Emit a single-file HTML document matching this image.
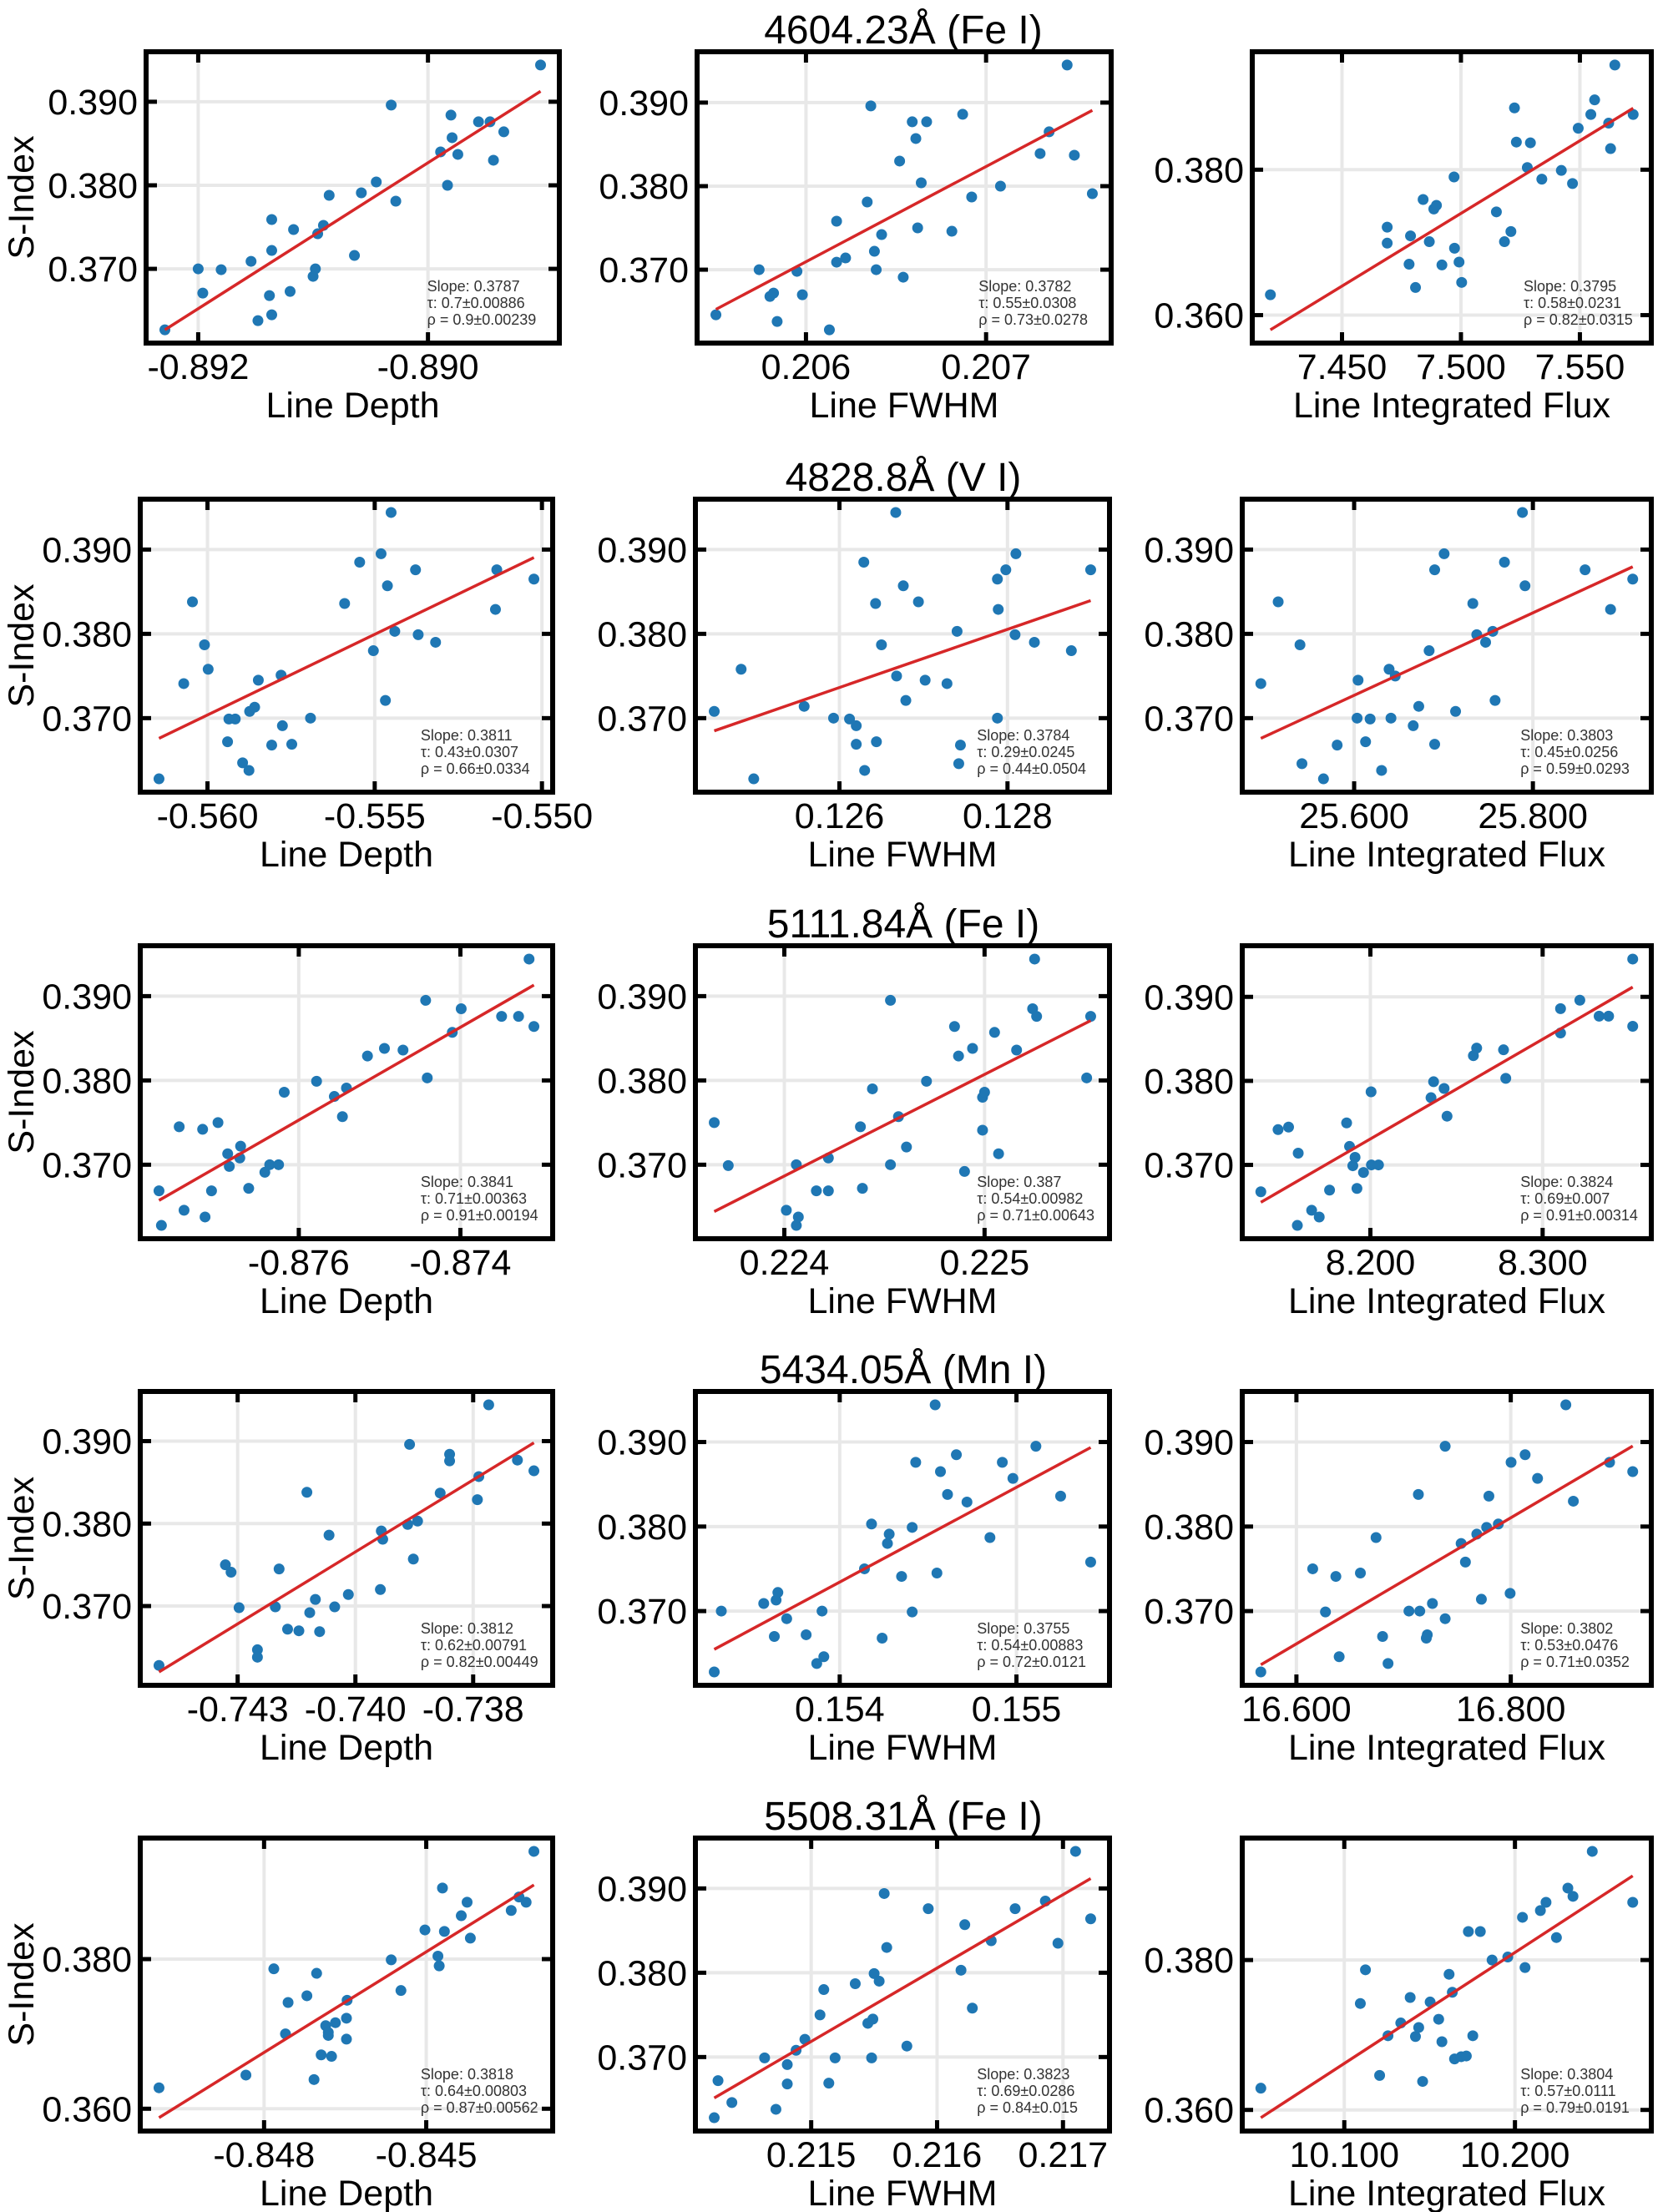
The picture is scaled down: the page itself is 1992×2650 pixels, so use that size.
<!DOCTYPE html>
<html><head><meta charset="utf-8"><title>S-Index correlations</title>
<style>
html,body{margin:0;padding:0;background:#fff;}
svg{display:block;font-family:"Liberation Sans",Arial,sans-serif;}
</style></head>
<body>
<svg id="fig" xmlns="http://www.w3.org/2000/svg" width="1992" height="2650"></svg>
<script>
// ===== Data (x = line property, y = S-Index) =====
const xs_r1c1=[-0.89229,-0.8920,-0.89196,-0.8918,-0.89154,-0.89148,-0.89138,-0.89136,-0.89136,-0.89136,-0.89120,-0.89117,-0.89100,-0.89098,-0.89096,-0.89091,-0.89086,-0.89064,-0.89058,-0.89045,-0.89032,-0.89028,-0.88989,-0.88983,-0.88980,-0.88979,-0.88974,-0.88956,-0.88946,-0.88943,-0.88934,-0.88902];
const ys_r1c1=[0.3627,0.3700,0.3671,0.3699,0.3709,0.3638,0.3668,0.3645,0.3722,0.3759,0.3673,0.3747,0.3691,0.3700,0.3742,0.3752,0.3788,0.3716,0.3791,0.3804,0.3896,0.3781,0.3840,0.3800,0.3884,0.3857,0.3837,0.3876,0.3876,0.3830,0.3864,0.3944];
const fit_r1c1=[0.3627,0.39125];
const xs_r1c2=[0.20550,0.20574,0.20580,0.20582,0.20584,0.20595,0.20598,0.20613,0.20617,0.20617,0.20622,0.20634,0.20636,0.20638,0.20639,0.20642,0.20652,0.20654,0.20659,0.20661,0.20662,0.20664,0.20667,0.20681,0.20687,0.20692,0.20708,0.20730,0.20735,0.20745,0.20749,0.20759];
const ys_r1c2=[0.3646,0.3700,0.3668,0.3672,0.3638,0.3698,0.3670,0.3628,0.3709,0.3758,0.3714,0.3781,0.3896,0.3722,0.3700,0.3742,0.3830,0.3691,0.3877,0.3857,0.3750,0.3804,0.3877,0.3746,0.3886,0.3787,0.3800,0.3839,0.3865,0.3945,0.3837,0.3791];
const fit_r1c2=[0.36525,0.38907];
const xs_r1c3=[7.4199,7.4690,7.4690,7.4782,7.4788,7.4809,7.4841,7.4867,7.4886,7.4897,7.4920,7.4973,7.4971,7.4992,7.5003,7.5149,7.5183,7.5210,7.5225,7.5233,7.5279,7.5292,7.5340,7.5422,7.5469,7.5493,7.5546,7.5562,7.5621,7.5629,7.5647,7.5724];
const ys_r1c3=[0.3628,0.3721,0.3699,0.3670,0.3709,0.3638,0.3759,0.3701,0.3746,0.3751,0.3669,0.3692,0.3790,0.3673,0.3645,0.3742,0.3701,0.3715,0.3885,0.3838,0.3803,0.3837,0.3787,0.3799,0.3781,0.3857,0.3876,0.3896,0.3864,0.3829,0.3944,0.3876];
const fit_r1c3=[0.35798,0.38846];
const xs_r2c1=[-0.56145,-0.56071,-0.56045,-0.56009,-0.55998,-0.55940,-0.55936,-0.55917,-0.55895,-0.55876,-0.55874,-0.55859,-0.55848,-0.55808,-0.55780,-0.55776,-0.55748,-0.55692,-0.55590,-0.55545,-0.55504,-0.55481,-0.55468,-0.55462,-0.55451,-0.55440,-0.55378,-0.55370,-0.55318,-0.55139,-0.55135,-0.55024];
const ys_r2c1=[0.3628,0.3741,0.3838,0.3787,0.3758,0.3672,0.3699,0.3699,0.3647,0.3638,0.3708,0.3713,0.3745,0.3668,0.3751,0.3691,0.3669,0.3700,0.3836,0.3885,0.3780,0.3895,0.3721,0.3857,0.3944,0.3803,0.3876,0.3799,0.3790,0.3829,0.3876,0.3865];
const fit_r2c1=[0.36760,0.38905];
const xs_r2c2=[0.12451,0.12483,0.12498,0.12558,0.12593,0.12612,0.12620,0.12620,0.12629,0.12630,0.12643,0.12644,0.12650,0.12667,0.12668,0.12676,0.12679,0.12694,0.12702,0.12728,0.12740,0.12742,0.12744,0.12788,0.12789,0.12788,0.12798,0.12810,0.12809,0.12832,0.12876,0.12899];
const ys_r2c2=[0.3708,0.3758,0.3628,0.3714,0.3700,0.3699,0.3691,0.3669,0.3885,0.3638,0.3836,0.3672,0.3787,0.3944,0.3750,0.3857,0.3721,0.3838,0.3745,0.3741,0.3803,0.3646,0.3668,0.3865,0.3829,0.3700,0.3876,0.3895,0.3799,0.3790,0.3780,0.3876];
const fit_r2c2=[0.36849,0.38395];
const xs_r2c3=[25.4956,25.5150,25.5394,25.5416,25.5657,25.5810,25.6033,25.6044,25.6128,25.6179,25.6307,25.6391,25.6412,25.6460,25.6661,25.6723,25.6839,25.6901,25.6901,25.7007,25.7135,25.7328,25.7372,25.7471,25.7551,25.7577,25.7682,25.7883,25.7912,25.8584,25.8869,25.9117];
const ys_r2c3=[0.3741,0.3838,0.3787,0.3646,0.3628,0.3668,0.3700,0.3745,0.3672,0.3699,0.3638,0.3758,0.3700,0.3750,0.3691,0.3714,0.3780,0.3876,0.3669,0.3895,0.3708,0.3836,0.3799,0.3790,0.3803,0.3721,0.3885,0.3944,0.3857,0.3876,0.3829,0.3865];
const fit_r2c3=[0.3676,0.38796];
const xs_r3c1=[-0.87773,-0.87770,-0.87748,-0.87742,-0.87719,-0.87716,-0.87708,-0.87700,-0.87688,-0.87686,-0.87673,-0.87672,-0.87662,-0.87642,-0.87636,-0.87625,-0.87618,-0.87578,-0.87556,-0.87546,-0.87541,-0.87515,-0.87494,-0.87471,-0.87443,-0.87441,-0.87410,-0.87399,-0.87349,-0.87328,-0.87315,-0.87309];
const ys_r3c1=[0.3669,0.3628,0.3745,0.3646,0.3742,0.3638,0.3669,0.3750,0.3713,0.3698,0.3708,0.3722,0.3672,0.3691,0.3700,0.3700,0.3786,0.3799,0.3781,0.3757,0.3791,0.3829,0.3838,0.3836,0.3895,0.3803,0.3857,0.3885,0.3876,0.3876,0.3944,0.3864];
const fit_r3c1=[0.36577,0.39131];
const xs_r3c2=[0.22365,0.22372,0.22401,0.22406,0.22406,0.22407,0.22416,0.22422,0.22422,0.22438,0.22439,0.22444,0.22453,0.22453,0.22457,0.22461,0.22471,0.22485,0.22487,0.22490,0.22494,0.22499,0.22499,0.22500,0.22505,0.22507,0.22516,0.22524,0.22525,0.22526,0.22551,0.22553];
const ys_r3c2=[0.3750,0.3699,0.3646,0.3628,0.3700,0.3638,0.3669,0.3669,0.3708,0.3745,0.3672,0.3790,0.3700,0.3895,0.3757,0.3721,0.3799,0.3864,0.3829,0.3692,0.3838,0.3741,0.3780,0.3786,0.3857,0.3713,0.3836,0.3885,0.3944,0.3876,0.3803,0.3876];
const fit_r3c2=[0.36444,0.38710];
const xs_r3c3=[8.1364,8.1464,8.1525,8.1576,8.1581,8.1659,8.1703,8.1763,8.1862,8.1879,8.1898,8.1911,8.1922,8.1960,8.2004,8.2006,8.2047,8.2352,8.2367,8.2428,8.2445,8.2598,8.2617,8.2773,8.2786,8.3104,8.3104,8.3216,8.3328,8.3383,8.3523,8.3523];
const ys_r3c3=[0.3668,0.3742,0.3745,0.3628,0.3714,0.3646,0.3638,0.3670,0.3750,0.3722,0.3699,0.3709,0.3672,0.3691,0.3787,0.3700,0.3700,0.3780,0.3799,0.3791,0.3758,0.3830,0.3839,0.3837,0.3803,0.3886,0.3857,0.3896,0.3877,0.3877,0.3945,0.3865];
const fit_r3c3=[0.36555,0.39116];
const xs_r4c1=[-0.74417,-0.74276,-0.74264,-0.74247,-0.74208,-0.74208,-0.74170,-0.74162,-0.74144,-0.74120,-0.74103,-0.74097,-0.74085,-0.74076,-0.74056,-0.74044,-0.74015,-0.73947,-0.73945,-0.73942,-0.73889,-0.73885,-0.73877,-0.73868,-0.73820,-0.73800,-0.73800,-0.73741,-0.73738,-0.73717,-0.73656,-0.73621];
const ys_r4c1=[0.3628,0.3750,0.3741,0.3698,0.3647,0.3638,0.3699,0.3745,0.3672,0.3670,0.3838,0.3692,0.3708,0.3669,0.3786,0.3699,0.3714,0.3720,0.3791,0.3781,0.3799,0.3896,0.3757,0.3803,0.3837,0.3884,0.3876,0.3829,0.3857,0.3944,0.3877,0.3864];
const fit_r4c1=[0.36201,0.38980];
const xs_r4c2=[0.15329,0.15333,0.15357,0.15363,0.15364,0.15365,0.15370,0.15381,0.15387,0.15390,0.15391,0.15414,0.15418,0.15424,0.15427,0.15428,0.15435,0.15441,0.15441,0.15443,0.15454,0.15455,0.15457,0.15461,0.15466,0.15472,0.15485,0.15492,0.15498,0.15511,0.15525,0.15542];
const ys_r4c2=[0.3628,0.3700,0.3709,0.3670,0.3713,0.3722,0.3691,0.3672,0.3638,0.3700,0.3646,0.3750,0.3803,0.3668,0.3780,0.3791,0.3741,0.3799,0.3699,0.3876,0.3944,0.3745,0.3865,0.3838,0.3885,0.3829,0.3787,0.3876,0.3857,0.3895,0.3836,0.3758];
const fit_r4c2=[0.36547,0.38935];
const xs_r4c3=[16.5668,16.6152,16.6271,16.6368,16.6399,16.6597,16.6743,16.6804,16.6855,16.7050,16.7138,16.7151,16.7212,16.7221,16.7269,16.7388,16.7388,16.7537,16.7577,16.7683,16.7726,16.7775,16.7796,16.7884,16.7994,16.8003,16.8134,16.8250,16.8514,16.8584,16.8922,16.9138];
const ys_r4c3=[0.3628,0.3750,0.3699,0.3741,0.3646,0.3745,0.3787,0.3670,0.3638,0.3700,0.3838,0.3700,0.3668,0.3672,0.3709,0.3895,0.3691,0.3780,0.3758,0.3791,0.3714,0.3799,0.3836,0.3803,0.3721,0.3876,0.3885,0.3857,0.3944,0.3830,0.3876,0.3865];
const fit_r4c3=[0.36365,0.38952];
const xs_r5c1=[-0.84912,-0.84778,-0.84735,-0.84717,-0.84713,-0.84684,-0.84673,-0.84669,-0.84662,-0.84655,-0.84651,-0.84651,-0.84646,-0.84640,-0.84623,-0.84623,-0.84622,-0.84554,-0.84539,-0.84502,-0.84482,-0.84480,-0.84475,-0.84472,-0.84446,-0.84437,-0.84432,-0.84369,-0.84357,-0.84346,-0.84334];
const ys_r5c1=[0.3628,0.3645,0.3787,0.3700,0.3742,0.3751,0.3639,0.3781,0.3672,0.3711,0.3702,0.3698,0.3670,0.3715,0.3721,0.3693,0.3745,0.3799,0.3758,0.3839,0.3804,0.3791,0.3895,0.3837,0.3858,0.3876,0.3828,0.3865,0.3883,0.3876,0.3944];
const fit_r5c1=[0.35880,0.38991];
const xs_r5c2=[0.21423,0.21426,0.21437,0.21463,0.21472,0.21481,0.21481,0.21488,0.21495,0.21507,0.21510,0.21514,0.21519,0.21535,0.21545,0.21548,0.21549,0.21550,0.21554,0.21558,0.21560,0.21576,0.21593,0.21619,0.21622,0.21628,0.21643,0.21662,0.21686,0.21696,0.21710,0.21722];
const ys_r5c2=[0.3628,0.3672,0.3646,0.3699,0.3638,0.3691,0.3668,0.3708,0.3721,0.3750,0.3780,0.3669,0.3699,0.3787,0.3740,0.3699,0.3745,0.3799,0.3790,0.3894,0.3830,0.3713,0.3876,0.3803,0.3857,0.3758,0.3838,0.3876,0.3885,0.3835,0.3944,0.3864];
const fit_r5c2=[0.36514,0.39118];
const xs_r5c3=[10.0511,10.1094,10.1124,10.1207,10.1256,10.1331,10.1386,10.1417,10.1436,10.1459,10.1503,10.1553,10.1572,10.1614,10.1633,10.1646,10.1685,10.1715,10.1727,10.1753,10.1797,10.1866,10.1958,10.2044,10.2059,10.2149,10.2182,10.2243,10.2310,10.2340,10.2453,10.2690];
const ys_r5c3=[0.3629,0.3742,0.3787,0.3646,0.3699,0.3716,0.3750,0.3698,0.3710,0.3638,0.3744,0.3721,0.3691,0.3781,0.3757,0.3668,0.3671,0.3672,0.3838,0.3699,0.3838,0.3800,0.3804,0.3857,0.3790,0.3866,0.3877,0.3830,0.3896,0.3885,0.3945,0.3877];
const fit_r5c3=[0.35896,0.39123];

// ===== Ticks =====
const yticksA=[0.370,0.380,0.390];
const yticksB=[0.360,0.380];
const xticks_r1c1=[-0.892,-0.890];
const xticks_r1c2=[0.206,0.207];
const xticks_r1c3=[7.45,7.50,7.55];
const xticks_r2c1=[-0.560,-0.555,-0.550];
const xticks_r2c2=[0.126,0.128];
const xticks_r2c3=[25.6,25.8];
const xticks_r3c1=[-0.876,-0.874];
const xticks_r3c2=[0.224,0.225];
const xticks_r3c3=[8.2,8.3];
const xticks_r4c1=[-0.7425,-0.7400,-0.7375];
const xticks_r4c2=[0.154,0.155];
const xticks_r4c3=[16.6,16.8];
const xticks_r5c1=[-0.8475,-0.8450];
const xticks_r5c2=[0.215,0.216,0.217];
const xticks_r5c3=[10.1,10.2];

// ===== Titles and stats =====
const rowTitles=["4604.23Å (Fe I)","4828.8Å (V I)","5111.84Å (Fe I)","5434.05Å (Mn I)","5508.31Å (Fe I)"];
const colLabels=["Line Depth","Line FWHM","Line Integrated Flux"];
const stats=[
 [["0.3787","0.7±0.00886","0.9±0.00239"],["0.3782","0.55±0.0308","0.73±0.0278"],["0.3795","0.58±0.0231","0.82±0.0315"]],
 [["0.3811","0.43±0.0307","0.66±0.0334"],["0.3784","0.29±0.0245","0.44±0.0504"],["0.3803","0.45±0.0256","0.59±0.0293"]],
 [["0.3841","0.71±0.00363","0.91±0.00194"],["0.387","0.54±0.00982","0.71±0.00643"],["0.3824","0.69±0.007","0.91±0.00314"]],
 [["0.3812","0.62±0.00791","0.82±0.00449"],["0.3755","0.54±0.00883","0.72±0.0121"],["0.3802","0.53±0.0476","0.71±0.0352"]],
 [["0.3818","0.64±0.00803","0.87±0.00562"],["0.3823","0.69±0.0286","0.84±0.015"],["0.3804","0.57±0.0111","0.79±0.0191"]]
];

const NS="http://www.w3.org/2000/svg";
const svg=document.getElementById('fig');
function mk(tag,attrs,parent){const e=document.createElementNS(NS,tag);for(const k in attrs)e.setAttribute(k,attrs[k]);(parent||svg).appendChild(e);return e;}

const rowTop=[62,598,1133,1667,2202];
const rowBot=[411,949,1484,2019,2553];
const colL=[[175,835,1500],[168,833,1488],[168,833,1488],[168,833,1488],[168,833,1488]];
const colR=[[670,1331,1978],[662,1329,1978],[662,1329,1978],[662,1329,1978],[662,1329,1978]];

const plots=[
 [[xs_r1c1,ys_r1c1,fit_r1c1,xticks_r1c1,yticksA,3],[xs_r1c2,ys_r1c2,fit_r1c2,xticks_r1c2,yticksA,3],[xs_r1c3,ys_r1c3,fit_r1c3,xticks_r1c3,yticksB,3]],
 [[xs_r2c1,ys_r2c1,fit_r2c1,xticks_r2c1,yticksA,3],[xs_r2c2,ys_r2c2,fit_r2c2,xticks_r2c2,yticksA,3],[xs_r2c3,ys_r2c3,fit_r2c3,xticks_r2c3,yticksA,3]],
 [[xs_r3c1,ys_r3c1,fit_r3c1,xticks_r3c1,yticksA,3],[xs_r3c2,ys_r3c2,fit_r3c2,xticks_r3c2,yticksA,3],[xs_r3c3,ys_r3c3,fit_r3c3,xticks_r3c3,yticksA,3]],
 [[xs_r4c1,ys_r4c1,fit_r4c1,xticks_r4c1,yticksA,3],[xs_r4c2,ys_r4c2,fit_r4c2,xticks_r4c2,yticksA,3],[xs_r4c3,ys_r4c3,fit_r4c3,xticks_r4c3,yticksA,3]],
 [[xs_r5c1,ys_r5c1,fit_r5c1,xticks_r5c1,yticksB,3],[xs_r5c2,ys_r5c2,fit_r5c2,xticks_r5c2,yticksA,3],[xs_r5c3,ys_r5c3,fit_r5c3,xticks_r5c3,yticksB,3]]
];

for(let r=0;r<5;r++){
  const t=mk('text',{x:1082,y:rowTop[r]-10,'text-anchor':'middle','font-size':48,fill:'#000'});
  t.textContent=rowTitles[r];
  
  
  for(let c=0;c<3;c++){
    const [xs,ys,fit,xt,yt,dec]=plots[r][c];
    const L=colL[r][c],R=colR[r][c],T=rowTop[r],B=rowBot[r];
    const g=mk('g',{});
    
    
    let xmin=Math.min(...xs),xmax=Math.max(...xs);
    let ymin=Math.min(...ys,...fit),ymax=Math.max(...ys,...fit);
    const xp=(xmax-xmin)*0.05,yp=(ymax-ymin)*0.05;
    const x0=xmin-xp,x1=xmax+xp,y0=ymin-yp,y1=ymax+yp;
    const sx=v=>L+(v-x0)/(x1-x0)*(R-L);
    const sy=v=>B-(v-y0)/(y1-y0)*(B-T);
    // grid
    xt.forEach(v=>{const l=mk('line',{x1:sx(v),x2:sx(v),y1:T,y2:B,stroke:'#e8e8e8','stroke-width':4},g);});
    yt.forEach(v=>{const l=mk('line',{x1:L,x2:R,y1:sy(v),y2:sy(v),stroke:'#e8e8e8','stroke-width':4},g);});
    // points
    xs.forEach((v,i)=>{const p=mk('circle',{cx:sx(v),cy:sy(ys[i]),r:6.5,fill:'#1f77b4'},g);});
    // fit line
    const fl=mk('line',{x1:sx(xmin),y1:sy(fit[0]),x2:sx(xmax),y2:sy(fit[1]),stroke:'#d62728','stroke-width':3.5},g);
    
    
    // frame
    const fr=mk('rect',{x:L,y:T,width:R-L,height:B-T,fill:'none',stroke:'#000','stroke-width':6},g);
    
    
    // ticks + labels
    xt.forEach(v=>{
      const X=sx(v);
      mk('line',{x1:X,x2:X,y1:B,y2:B-13,stroke:'#000','stroke-width':5},g);
      mk('line',{x1:X,x2:X,y1:T,y2:T+13,stroke:'#000','stroke-width':5},g);
      const tl=mk('text',{x:X,y:B+43,'text-anchor':'middle','font-size':43},g);
      tl.textContent=v.toFixed(3);
      
      
    });
    yt.forEach(v=>{
      const Y=sy(v);
      mk('line',{x1:L,x2:L+13,y1:Y,y2:Y,stroke:'#000','stroke-width':5},g);
      mk('line',{x1:R,x2:R-13,y1:Y,y2:Y,stroke:'#000','stroke-width':5},g);
      const tl=mk('text',{x:L-10,y:Y+15,'text-anchor':'end','font-size':43},g);
      tl.textContent=v.toFixed(dec);
      
      
    });
    // x label
    const xl=mk('text',{x:(L+R)/2,y:B+89,'text-anchor':'middle','font-size':43},g);
    xl.textContent=colLabels[c];
    
    
    if(c===0){
      const yl=mk('text',{x:0,y:0,'text-anchor':'middle','font-size':43,transform:`translate(40,${(T+B)/2}) rotate(-90)`},g);
      yl.textContent='S-Index';
      
      
    }
    // stats annotation
    const st=stats[r][c];
    const ax=L+(R-L)*0.68;
    const lines=['Slope: '+st[0],'τ: '+st[1],'ρ = '+st[2]];
    lines.forEach((s,i)=>{
      const a=mk('text',{x:ax,y:B-62+i*20,'font-size':18,fill:'#333'},g);
      a.textContent=s;
      
      
    });
  }
}
</script>
</body></html>
